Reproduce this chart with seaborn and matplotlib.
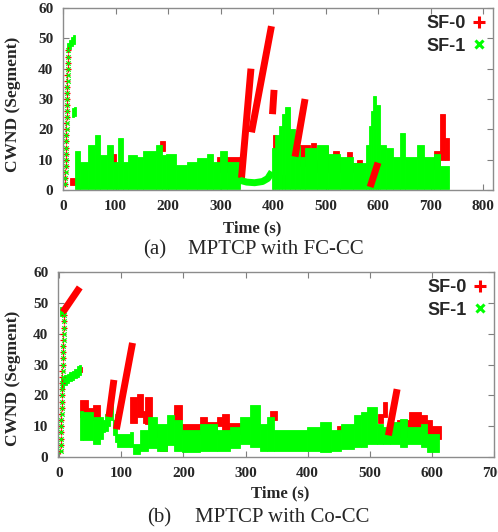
import numpy as np
import pandas as pd
import matplotlib.pyplot as plt
import seaborn as sns
from matplotlib.lines import Line2D

nan = np.nan

# ---------------- (a) MPTCP with FC-CC ----------------
# slow-start burst at connection start (both subflows)
a_ss_t = [4.0, 4.3, 4.5, 4.8, 5.0, 5.3, 5.5, 5.8, 6.0, 6.3, 6.5, 6.8,
          7.0, 7.3, 7.5, 7.8, 8.0, 8.3, 8.5, 8.8, 9.0, 9.3, 9.5]
a_ss_v = [2, 4, 6, 8, 10, 12, 14, 16, 18, 20, 22, 24,
          26, 28, 30, 32, 34, 36, 38, 40, 42, 44, 46]

# dense CWND bands (time, low, high), NaN row ends a block
a_sf0_band = [(13, 1.5, 4), (23, nan, nan),
              (93, 9, 12), (100, nan, nan),
              (185, 13, 16), (194, nan, nan),
              (293, 6, 11), (337, nan, nan),
              (400, 11, 18), (406, nan, nan),
              (415, 0.5, 5), (426, nan, nan),
              (451, 8, 15), (470, 6, 12), (472, 8, 15.5), (482, 6, 10),
              (490, 8, 14.5), (505, 6, 10), (515, 8, 13), (525, 6, 10),
              (540, 7, 12.5), (550, 6, 9), (560, 6, 10), (570, nan, nan),
              (706, 7, 13), (718, 10, 25), (728, 10, 17), (735, nan, nan)]

a_sf1_band = [(7, 45.5, 48.5), (11, 46.5, 49.5), (15, 47.5, 50.5), (19, 48, 51), (23, nan, nan),
              (17, 24, 27), (21, 24.5, 27.5), (25, nan, nan),
              (22, 0.4, 13), (32, 0.4, 9.3), (48, 0.4, 14.8), (61, 0.4, 18),
              (70, 0.4, 11.5), (83, 0.4, 14.8), (96, 0.4, 9.3), (105, 0.4, 17),
              (115, 0.4, 9.3), (124, 0.4, 11.5), (140, 0.4, 11), (153, 0.4, 13),
              (178, 0.4, 14.8), (188, 0.4, 11.5), (197, 0.4, 12), (216, 0.4, 8.3),
              (236, 0.4, 9.3), (255, 0.4, 10.4), (274, 0.4, 12), (286, 0.4, 9.3),
              (299, 0.4, 13), (312, 0.4, 9.3), (337, nan, nan),
              (398, 0.4, 14), (404, 0.4, 18), (411, 0.4, 21), (417, 0.4, 25),
              (423, 0.4, 27.5), (432, 0.4, 20), (442, 0.4, 15), (451, 0.4, 11),
              (461, 0.4, 14), (483, 0.4, 15), (505, 0.4, 12), (528, 0.4, 11),
              (553, 0.4, 9), (578, 0.4, 15), (583, 0.4, 21), (587, 0.4, 26),
              (591, 0.4, 31), (597, 0.4, 28), (604, 0.4, 15), (616, 0.4, 14),
              (629, 0.4, 11), (642, 0.4, 18.7), (651, 0.4, 11), (674, 0.4, 15),
              (687, 0.4, 11), (706, 0.4, 12), (718, 0.4, 8), (735, nan, nan)]

# congestion-avoidance ramps (polylines of time, cwnd)
a_sf0_ramps = [[(340, 4), (358, 40)],
               [(359, 19), (397, 54)],
               [(399, 25), (402, 33)],
               [(442, 11), (461, 30)],
               [(585, 1), (600, 9)]]
a_sf1_ramps = [[(337, 3.2), (350, 2.6), (365, 2.4), (380, 2.8), (390, 3.8), (398, 6)]]

# ---------------- (b) MPTCP with Co-CC ----------------
b_ss_t = [2.0, 2.2, 2.5, 2.7, 3.0, 3.2, 3.5, 3.7, 4.0, 4.2, 4.5, 4.7,
          5.0, 5.2, 5.5, 5.7, 6.0, 6.2, 6.5, 6.7, 7.0, 7.2, 7.5]
b_ss_v = [2, 4, 6, 8, 10, 12, 14, 16, 18, 20, 22, 24,
          26, 28, 30, 32, 34, 36, 38, 40, 42, 44, 46]

b_sf0_band = [(31, 27.5, 29.3), (37, nan, nan),
              (33, 13, 18.4), (47, 12, 16), (55, 12, 16.8), (66, nan, nan),
              (114, 11, 19.5), (125, 13, 20.5), (135, 11, 15), (138, 10.8, 19.5),
              (149, 6.5, 10), (162, 2, 4), (173, nan, nan),
              (184, 12, 17), (197, 7.5, 10.8), (227, 8.6, 13), (238, 7.5, 11.5),
              (254, 10, 13), (262, 6.5, 14), (273, 7.5, 11), (291, nan, nan),
              (340, 12, 15), (350, nan, nan),
              (447, 8, 10), (463, nan, nan),
              (514, 11, 14), (521, 13, 18), (528, nan, nan),
              (544, 6.5, 12), (563, 9.7, 14.6), (582, 8, 13.6), (592, 7, 12),
              (600, 6, 10), (614, nan, nan)]

b_sf1_band = [(1.5, 45.8, 48.5), (9, nan, nan),
              (3, 22.5, 26), (8, 23.5, 26.5), (12, 24, 27), (16, 24.5, 27.5),
              (20, 25, 28), (24, 25.5, 28.5), (28, 26, 29.5), (32, 26.5, 30), (35, nan, nan),
              (34, 5.4, 15), (38, 5.4, 14.6), (55, 4.3, 13), (66, 6, 13), (70, 8, 12),
              (74, 8.5, 14), (78, 10, 17), (82, 12, 19), (86, 7, 12), (90, 5, 14),
              (93, 3.2, 7.5), (114, 3.2, 8), (119, 1, 4.3), (130, 2, 8.6), (143, 3, 13),
              (157, 2, 10.8), (173, 4, 13.5), (184, 2, 12), (197, 1.6, 8.6),
              (227, 2, 10.8), (254, 2, 8.6), (275, 3, 9.7), (291, 4.3, 13),
              (307, 3.2, 16.8), (323, 2, 10.8), (334, 2, 13), (345, 2, 8.6),
              (399, 2, 9.7), (420, 1.6, 11.4), (437, 2, 8.6), (453, 2.7, 10.8),
              (474, 3.2, 13.5), (486, 3.2, 14.6), (495, 4.3, 16.2), (511, 4.3, 10.8),
              (522, 4.3, 9.7), (533, 4.3, 11.4), (549, 3.2, 12.4), (560, 4.3, 9.7),
              (582, 3.2, 10.8), (592, 1.6, 7.5), (612, nan, nan)]

b_sf0_ramps = [[(6, 47), (33, 55)],
               [(80, 13), (88, 25)],
               [(92, 9), (118, 37)],
               [(530, 7), (544, 22)]]
b_sf1_ramps = []

RED = "#ff0000"
GREEN = "#00ff00"

sns.set_style("ticks")
plt.rcParams["font.family"] = ["Liberation Serif", "DejaVu Serif"]
plt.rcParams["font.weight"] = "bold"


def draw_band(ax, band, color, z):
    df = pd.DataFrame(band, columns=["t", "lo", "hi"])
    df["w"] = df["t"].shift(-1) - df["t"]
    df = df.dropna()
    ax.bar(df["t"], df["hi"] - df["lo"], bottom=df["lo"], width=df["w"],
           align="edge", color=color, edgecolor=color, linewidth=0.6, zorder=z)


def draw_ramps(ax, ramps, color, z):
    if not ramps:
        return
    rows = [(i, t, v) for i, seg in enumerate(ramps) for t, v in seg]
    df = pd.DataFrame(rows, columns=["seg", "t", "v"])
    sns.lineplot(data=df, x="t", y="v", units="seg", estimator=None, sort=False,
                 color=color, lw=5, solid_capstyle="butt", ax=ax, zorder=z, legend=False)


def draw_panel(ax, ss_t, ss_v, sf0_band, sf1_band, sf0_ramps, sf1_ramps, xlim, xticks):
    draw_band(ax, sf0_band, RED, 2)
    draw_band(ax, sf1_band, GREEN, 3)
    draw_ramps(ax, sf0_ramps, RED, 4)
    draw_ramps(ax, sf1_ramps, GREEN, 4)
    sns.scatterplot(x=ss_t, y=ss_v, marker="+", color=RED, s=14, linewidth=0.9,
                    ax=ax, zorder=5, legend=False)
    sns.scatterplot(x=[t + 0.4 for t in ss_t], y=ss_v, marker="x", color=GREEN, s=10,
                    linewidth=0.9, ax=ax, zorder=5, legend=False)
    ax.set_xlim(*xlim)
    ax.set_ylim(0, 60)
    ax.set_xticks(xticks)
    ax.set_yticks(range(0, 61, 10))
    ax.set_xlabel("")
    ax.set_ylabel("")
    ax.tick_params(direction="in", top=True, right=True, length=4, width=0.8,
                   color="#7f7f7f", labelsize=11, pad=7)
    for s in ax.spines.values():
        s.set_color("#8c8c8c")
        s.set_linewidth(1.0)
        s.set_zorder(6)
    handles = [Line2D([], [], marker="+", color=RED, ls="none", markersize=8, mew=2.2),
               Line2D([], [], marker="x", color=GREEN, ls="none", markersize=6, mew=2.2)]
    ax.legend(handles, ["SF-0", "SF-1"], loc="upper right", markerfirst=False,
              frameon=False, handlelength=0.7, handletextpad=0.4, labelspacing=0.3,
              borderaxespad=0.2, borderpad=0.2,
              prop={"family": "Liberation Sans", "weight": "bold", "size": 13})


fig = plt.figure(figsize=(4.98, 5.32), dpi=100)
ax1 = fig.add_axes([63 / 498, 1 - 190 / 532, 430 / 498, 182 / 532])
ax2 = fig.add_axes([58 / 498, 1 - 457 / 532, 436 / 498, 185 / 532])

draw_panel(ax1, a_ss_t, a_ss_v, a_sf0_band, a_sf1_band, a_sf0_ramps, a_sf1_ramps,
           (0, 819), range(0, 801, 100))
draw_panel(ax2, b_ss_t, b_ss_v, b_sf0_band, b_sf1_band, b_sf0_ramps, b_sf1_ramps,
           (-2, 700), range(0, 701, 100))

fig.text(13 / 498, 1 - 104 / 532, "CWND (Segment)", rotation=90, ha="center",
         va="center", size=12.5)
fig.text(13 / 498, 1 - 378 / 532, "CWND (Segment)", rotation=90, ha="center",
         va="center", size=12.5)
fig.text(252 / 498, 1 - 228 / 532, "Time (s)", ha="center", va="center", size=12)
fig.text(280 / 498, 1 - 493 / 532, "Time (s)", ha="center", va="center", size=12)
fig.text(143 / 498, 1 - 250 / 532, "(a)", ha="left", va="center", size=15, weight="normal")
fig.text(188 / 498, 1 - 250 / 532, "MPTCP with FC-CC", ha="left", va="center", size=15,
         weight="normal")
fig.text(147 / 498, 1 - 518 / 532, "(b)", ha="left", va="center", size=15, weight="normal")
fig.text(195 / 498, 1 - 518 / 532, "MPTCP with Co-CC", ha="left", va="center", size=15,
         weight="normal")

fig.savefig("out.png", dpi=100)
